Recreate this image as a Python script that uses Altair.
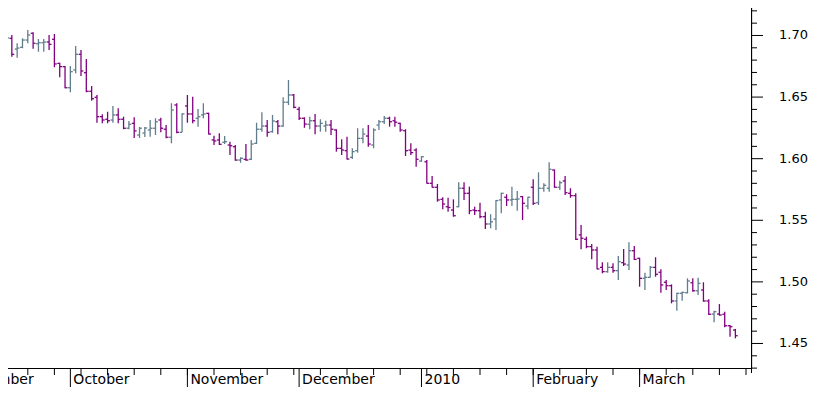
import altair as alt
import pandas as pd

# Daily OHLC bars (weekdays from 2009-09-14)
opens = [
    1.6941, 1.6974, 1.6977, 1.6890, 1.6904, 1.6963, 1.7018, 1.6933, 1.6941, 1.6947,
    1.6969, 1.6774, 1.6747, 1.6576, 1.6720, 1.6847, 1.6698, 1.6547, 1.6498, 1.6341,
    1.6320, 1.6314, 1.6355, 1.6320, 1.6247, 1.6287, 1.6192, 1.6208, 1.6233, 1.6247,
    1.6314, 1.6239, 1.6174, 1.6436, 1.6214, 1.6428, 1.6363, 1.6328, 1.6355, 1.6368,
    1.6152, 1.6152, 1.6133, 1.6111, 1.6097, 1.5989, 1.5995, 1.5995, 1.6125, 1.6239,
    1.6265, 1.6219, 1.6300, 1.6265, 1.6458, 1.6517, 1.6401, 1.6328, 1.6279, 1.6308,
    1.6265, 1.6265, 1.6273, 1.6233, 1.6084, 1.6065, 1.6011, 1.6065, 1.6165, 1.6184,
    1.6111, 1.6273, 1.6300, 1.6328, 1.6308, 1.6287, 1.6227, 1.6070, 1.6070, 1.5981,
    1.5975, 1.5800, 1.5768, 1.5670, 1.5610, 1.5583, 1.5610, 1.5760, 1.5719, 1.5583,
    1.5578, 1.5529, 1.5470, 1.5510, 1.5665, 1.5687, 1.5665, 1.5670, 1.5692, 1.5616,
    1.5768, 1.5643, 1.5760, 1.5760, 1.5908, 1.5768, 1.5819, 1.5719, 1.5700, 1.5381,
    1.5346, 1.5286, 1.5259, 1.5118, 1.5083, 1.5118, 1.5091, 1.5156, 1.5137, 1.5253,
    1.5191, 1.5029, 1.5037, 1.5118, 1.5078, 1.4997, 1.4969, 1.4845, 1.4907, 1.4912,
    1.4993, 1.4928, 1.4934, 1.4845, 1.4739, 1.4739, 1.4737, 1.4644, 1.4609,
]
highs = [
    1.7018, 1.7036, 1.7004, 1.6937, 1.6977, 1.7045, 1.7026, 1.6971, 1.6971, 1.7004,
    1.7012, 1.6779, 1.6752, 1.6752, 1.6915, 1.6882, 1.6809, 1.6590, 1.6517, 1.6360,
    1.6381, 1.6428, 1.6409, 1.6341, 1.6306, 1.6336, 1.6257, 1.6257, 1.6314, 1.6328,
    1.6333, 1.6273, 1.6450, 1.6450, 1.6368, 1.6517, 1.6503, 1.6403, 1.6450, 1.6373,
    1.6187, 1.6206, 1.6184, 1.6138, 1.6111, 1.6011, 1.6119, 1.6152, 1.6292, 1.6376,
    1.6314, 1.6355, 1.6314, 1.6498, 1.6639, 1.6525, 1.6422, 1.6336, 1.6341, 1.6363,
    1.6320, 1.6308, 1.6314, 1.6239, 1.6157, 1.6178, 1.6084, 1.6247, 1.6247, 1.6273,
    1.6247, 1.6314, 1.6346, 1.6341, 1.6341, 1.6292, 1.6239, 1.6125, 1.6084, 1.6022,
    1.5989, 1.5859, 1.5795, 1.5687, 1.5683, 1.5670, 1.5808, 1.5808, 1.5773, 1.5610,
    1.5643, 1.5570, 1.5549, 1.5665, 1.5724, 1.5711, 1.5773, 1.5738, 1.5697, 1.5692,
    1.5833, 1.5889, 1.5800, 1.5971, 1.5912, 1.5821, 1.5859, 1.5760, 1.5719, 1.5462,
    1.5367, 1.5308, 1.5286, 1.5159, 1.5159, 1.5151, 1.5210, 1.5267, 1.5321, 1.5291,
    1.5196, 1.5075, 1.5129, 1.5200, 1.5102, 1.5015, 1.4980, 1.4912, 1.4920, 1.5029,
    1.5029, 1.5034, 1.4997, 1.4859, 1.4766, 1.4820, 1.4758, 1.4650, 1.4618,
]
lows = [
    1.6909, 1.6950, 1.6828, 1.6820, 1.6896, 1.6937, 1.6893, 1.6868, 1.6868, 1.6882,
    1.6742, 1.6661, 1.6571, 1.6539, 1.6693, 1.6671, 1.6539, 1.6471, 1.6292, 1.6287,
    1.6287, 1.6292, 1.6287, 1.6239, 1.6239, 1.6168, 1.6168, 1.6176, 1.6178, 1.6192,
    1.6214, 1.6165, 1.6125, 1.6206, 1.6214, 1.6292, 1.6287, 1.6260, 1.6328, 1.6196,
    1.6111, 1.6111, 1.6119, 1.6030, 1.5984, 1.5967, 1.5984, 1.5990, 1.6119, 1.6219,
    1.6178, 1.6211, 1.6198, 1.6260, 1.6436, 1.6409, 1.6314, 1.6251, 1.6239, 1.6198,
    1.6219, 1.6219, 1.6192, 1.6057, 1.6030, 1.5993, 1.5997, 1.6049, 1.6125, 1.6097,
    1.6084, 1.6233, 1.6281, 1.6260, 1.6260, 1.6219, 1.6022, 1.6030, 1.5935, 1.5975,
    1.5798, 1.5766, 1.5651, 1.5589, 1.5570, 1.5529, 1.5605, 1.5665, 1.5549, 1.5543,
    1.5516, 1.5429, 1.5435, 1.5421, 1.5557, 1.5616, 1.5616, 1.5578, 1.5502, 1.5589,
    1.5624, 1.5624, 1.5732, 1.5732, 1.5764, 1.5746, 1.5705, 1.5683, 1.5340, 1.5264,
    1.5273, 1.5183, 1.5103, 1.5070, 1.5075, 1.5075, 1.5015, 1.5129, 1.5096, 1.5178,
    1.4961, 1.4934, 1.5035, 1.5042, 1.4912, 1.4934, 1.4826, 1.4766, 1.4847, 1.4907,
    1.4920, 1.4893, 1.4839, 1.4731, 1.4672, 1.4726, 1.4631, 1.4555, 1.4542,
]
closes = [
    1.6977, 1.6980, 1.6847, 1.6898, 1.6963, 1.7004, 1.6937, 1.6941, 1.6947, 1.6928,
    1.6769, 1.6747, 1.6576, 1.6706, 1.6847, 1.6712, 1.6547, 1.6487, 1.6341, 1.6314,
    1.6308, 1.6355, 1.6320, 1.6247, 1.6279, 1.6225, 1.6247, 1.6249, 1.6247, 1.6300,
    1.6247, 1.6174, 1.6395, 1.6214, 1.6363, 1.6363, 1.6308, 1.6341, 1.6363, 1.6200,
    1.6144, 1.6117, 1.6138, 1.6105, 1.5989, 1.6003, 1.5989, 1.6119, 1.6239, 1.6265,
    1.6214, 1.6306, 1.6265, 1.6458, 1.6517, 1.6417, 1.6328, 1.6281, 1.6308, 1.6265,
    1.6287, 1.6273, 1.6239, 1.6084, 1.6070, 1.5997, 1.6057, 1.6165, 1.6200, 1.6119,
    1.6233, 1.6300, 1.6328, 1.6300, 1.6296, 1.6233, 1.6065, 1.6049, 1.5995, 1.6016,
    1.5800, 1.5768, 1.5665, 1.5632, 1.5604, 1.5537, 1.5760, 1.5719, 1.5578, 1.5578,
    1.5529, 1.5470, 1.5488, 1.5660, 1.5719, 1.5665, 1.5670, 1.5673, 1.5638, 1.5687,
    1.5638, 1.5760, 1.5784, 1.5914, 1.5768, 1.5805, 1.5724, 1.5700, 1.5346, 1.5354,
    1.5286, 1.5259, 1.5105, 1.5083, 1.5118, 1.5091, 1.5164, 1.5145, 1.5253, 1.5183,
    1.5029, 1.5037, 1.5118, 1.5062, 1.4975, 1.4969, 1.4845, 1.4907, 1.4915, 1.5007,
    1.4928, 1.4988, 1.4845, 1.4737, 1.4758, 1.4731, 1.4644, 1.4636, 1.4563,
]

# Axis furniture (positions in trading-day index units / price units)
month_labels = ["September", "October", "November", "December", "2010", "February", "March"]
month_starts = [-9, 13, 35, 56, 79, 100, 120]
week_ticks = list(range(0, 141, 5))
major_ticks = [1.45, 1.50, 1.55, 1.60, 1.65, 1.70]
minor_ticks = [1.43, 1.44, 1.46, 1.47, 1.48, 1.49, 1.51, 1.52, 1.53, 1.54,
               1.56, 1.57, 1.58, 1.59, 1.61, 1.62, 1.63, 1.64, 1.66, 1.67,
               1.68, 1.69, 1.71, 1.72]

n = len(opens)
df = pd.DataFrame({"i": list(range(n)), "open": opens, "high": highs,
                   "low": lows, "close": closes})
df["dir"] = ["up" if c >= o else "down" for o, c in zip(opens, closes)]

W, H = 752, 368
X0, DX = 1.2, 5.32
x_scale = alt.Scale(domain=[-X0 / DX, (W - X0) / DX], nice=False, zero=False)
y_scale = alt.Scale(domain=[1.4301, 1.7288], nice=False, zero=False)

UP, DOWN = "#607D8B", "#800080"
color = alt.Color("dir:N", scale=alt.Scale(domain=["up", "down"], range=[UP, DOWN]),
                  legend=None)
SW = 1.3

base = alt.Chart(df).transform_calculate(il="datum.i - 0.45", ir="datum.i + 0.45")

stems = base.mark_rule(strokeWidth=SW).encode(
    x=alt.X("i:Q", scale=x_scale, axis=None),
    y=alt.Y("low:Q", scale=y_scale, axis=None),
    y2="high:Q",
    color=color,
)
open_t = base.mark_rule(strokeWidth=SW).encode(
    x=alt.X("il:Q", scale=x_scale, axis=None),
    x2="i:Q",
    y=alt.Y("open:Q", scale=y_scale, axis=None),
    color=color,
)
close_t = base.mark_rule(strokeWidth=SW).encode(
    x=alt.X("i:Q", scale=x_scale, axis=None),
    x2="ir:Q",
    y=alt.Y("close:Q", scale=y_scale, axis=None),
    color=color,
)

# frame: right (price) axis line and bottom (date) axis line
frame_r = alt.Chart(pd.DataFrame({"k": [0]})).mark_rule(color="black", strokeWidth=1).encode(
    x=alt.value(W - 0.5), y=alt.value(0), y2=alt.value(H + 5))
frame_b = alt.Chart(pd.DataFrame({"k": [0]})).mark_rule(color="black", strokeWidth=1).encode(
    x=alt.value(0), x2=alt.value(W), y=alt.value(H + 0.5))

minor = alt.Chart(pd.DataFrame({"v": minor_ticks})).mark_rule(color="black").encode(
    y=alt.Y("v:Q", scale=y_scale, axis=None), x=alt.value(W), x2=alt.value(W + 5))
major_df = pd.DataFrame({"v": major_ticks})
major = alt.Chart(major_df).mark_rule(color="black").encode(
    y=alt.Y("v:Q", scale=y_scale, axis=None), x=alt.value(W), x2=alt.value(W + 11))
ylabels = alt.Chart(major_df).mark_text(
    align="right", baseline="middle", font="DejaVu Sans", fontSize=13, color="black").encode(
    y=alt.Y("v:Q", scale=y_scale, axis=None), x=alt.value(808),
    text=alt.Text("v:Q", format=".2f"))

weeks = alt.Chart(pd.DataFrame({"w": week_ticks})).mark_rule(color="black").encode(
    x=alt.X("w:Q", scale=x_scale, axis=None), y=alt.value(H), y2=alt.value(H + 7))

months_df = pd.DataFrame({"m": month_starts, "label": month_labels})
mlines = alt.Chart(months_df).mark_rule(color="black").encode(
    x=alt.X("m:Q", scale=x_scale, axis=None), y=alt.value(H), y2=alt.value(H + 30))
mtext = alt.Chart(months_df).mark_text(
    align="left", baseline="alphabetic", dx=3, font="DejaVu Sans", fontSize=14,
    color="black").encode(
    x=alt.X("m:Q", scale=x_scale, axis=None), y=alt.value(384), text="label:N")

chart = alt.layer(stems, open_t, close_t, frame_r, frame_b, minor, major, ylabels,
                  weeks, mlines, mtext).properties(
    width=W, height=H,
    padding={"left": -8, "top": -8, "right": 57, "bottom": 19},
    autosize=alt.AutoSizeParams(type="none"),
).configure_view(strokeWidth=0).configure(background="white")

chart.save("out.html", embed_options={"renderer": "svg", "actions": False})
